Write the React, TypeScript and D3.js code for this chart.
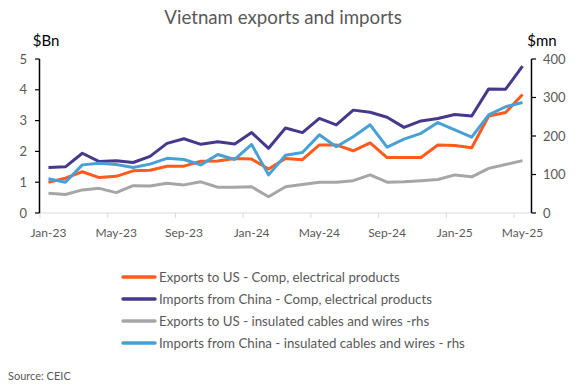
import React from 'react';
import * as d3 from 'd3';

// monthly, Jan-23 .. May-25
const months = [
  'Jan-23', 'Feb-23', 'Mar-23', 'Apr-23', 'May-23', 'Jun-23', 'Jul-23', 'Aug-23', 'Sep-23', 'Oct-23', 'Nov-23', 'Dec-23',
  'Jan-24', 'Feb-24', 'Mar-24', 'Apr-24', 'May-24', 'Jun-24', 'Jul-24', 'Aug-24', 'Sep-24', 'Oct-24', 'Nov-24', 'Dec-24',
  'Jan-25', 'Feb-25', 'Mar-25', 'Apr-25', 'May-25',
];
const tickMonths = ['Jan-23', 'May-23', 'Sep-23', 'Jan-24', 'May-24', 'Sep-24', 'Jan-25', 'May-25'];

// $Bn, left axis
const exportsUsComp = [1.0, 1.13, 1.34, 1.15, 1.19, 1.37, 1.39, 1.52, 1.52, 1.68, 1.69, 1.77, 1.75, 1.43, 1.77, 1.73, 2.21, 2.21, 2.02, 2.28, 1.8, 1.8, 1.8, 2.21, 2.19, 2.12, 3.15, 3.26, 3.85];
const importsChinaComp = [1.48, 1.5, 1.94, 1.67, 1.7, 1.64, 1.84, 2.26, 2.41, 2.23, 2.31, 2.24, 2.61, 2.1, 2.76, 2.61, 3.07, 2.86, 3.34, 3.27, 3.11, 2.78, 2.99, 3.07, 3.2, 3.15, 4.03, 4.02, 4.77];
// $mn, right axis
const exportsUsCables = [51, 48, 60, 64, 53, 71, 70, 77, 73, 81, 67, 67, 68, 42, 68, 74, 80, 80, 84, 99, 80, 81, 84, 87, 99, 94, 116, 126, 136];
const importsChinaCables = [89, 80, 125, 129, 126, 118, 127, 142, 139, 125, 152, 139, 178, 99, 150, 157, 203, 172, 198, 229, 171, 192, 207, 235, 216, 197, 255, 276, 287];

const leftTicks = [0, 1, 2, 3, 4, 5];
const rightTicks = [0, 100, 200, 300, 400];

const series = [
  { name: 'Exports to US - Comp, electrical products', values: exportsUsComp, axis: 'left', color: '#ff5b1e' },
  { name: 'Imports from China - Comp, electrical products', values: importsChinaComp, axis: 'left', color: '#45398b' },
  { name: 'Exports to US - insulated cables and wires -rhs', values: exportsUsCables, axis: 'right', color: '#a6a6a6' },
  { name: 'Imports from China - insulated cables and wires - rhs', values: importsChinaCables, axis: 'right', color: '#47a1d5' },
];

const W = 580;
const H = 387;
const font = 'Lato, "Open Sans", sans-serif';
const textGrey = '#595959';

export default function App() {
  const x = d3.scaleBand<string>().domain(months).range([40, 531]);
  const yL = d3.scaleLinear().domain([0, 5]).range([213, 59]);
  const yR = d3.scaleLinear().domain([0, 400]).range([213, 59]);
  const cx = (m: string) => (x(m) ?? 0) + x.bandwidth() / 2;

  const lineFor = (s: typeof series[number]) => {
    const y = s.axis === 'left' ? yL : yR;
    return d3.line<number>()
      .x((_, i) => cx(months[i]))
      .y(d => y(d))(s.values) ?? '';
  };

  return (
    <div style={{ position: 'absolute', left: 0, top: 0 }}>
      <svg width={W} height={H} style={{ display: 'block', background: '#fff' }} fontFamily={font}>
        <text x={283} y={24} textAnchor="middle" fontSize={18.7} fill={textGrey}>Vietnam exports and imports</text>
        <text x={46} y={46} textAnchor="middle" fontSize={15} fill="#000">$Bn</text>
        <text x={542} y={46} textAnchor="middle" fontSize={15} fill="#000">$mn</text>

        {/* x axis */}
        <line x1={40} x2={531} y1={213} y2={213} stroke="#d9d9d9" />
        {tickMonths.map(m => (
          <g key={m}>
            <line x1={x(m)} x2={x(m)} y1={213} y2={218} stroke="#d9d9d9" />
            <text x={cx(m)} y={237} textAnchor="middle" fontSize={12} fill={textGrey}>{m}</text>
          </g>
        ))}

        {/* left axis */}
        <line x1={39.5} x2={39.5} y1={yL(5)} y2={yL(0)} stroke="#000" strokeWidth={1.5} />
        {leftTicks.map(t => (
          <g key={t}>
            <line x1={35} x2={39.5} y1={yL(t)} y2={yL(t)} stroke="#000" strokeWidth={1.2} />
            <text x={27} y={yL(t)} dy="0.35em" textAnchor="end" fontSize={13} fill={textGrey}>{t}</text>
          </g>
        ))}

        {/* right axis */}
        <line x1={531.5} x2={531.5} y1={yR(400)} y2={yR(0)} stroke="#000" strokeWidth={1.5} />
        {rightTicks.map(t => (
          <g key={t}>
            <line x1={531.5} x2={536} y1={yR(t)} y2={yR(t)} stroke="#000" strokeWidth={1.2} />
            <text x={543} y={yR(t)} dy="0.35em" fontSize={13} fill={textGrey}>{t}</text>
          </g>
        ))}

        {series.map(s => (
          <path key={s.name} d={lineFor(s)} fill="none" stroke={s.color} strokeWidth={3} strokeLinejoin="round" />
        ))}

        {/* legend */}
        {series.map((s, i) => (
          <g key={s.name} transform={`translate(123, ${277 + i * 22})`}>
            <line x1={0} x2={32} y1={0} y2={0} stroke={s.color} strokeWidth={3.5} strokeLinecap="round" />
            <text x={36} y={0} dy="0.35em" fontSize={13.3} fill={textGrey}>{s.name}</text>
          </g>
        ))}

        <text x={8} y={380} fontSize={11} fill={textGrey}>Source: CEIC</text>
      </svg>
    </div>
  );
}
